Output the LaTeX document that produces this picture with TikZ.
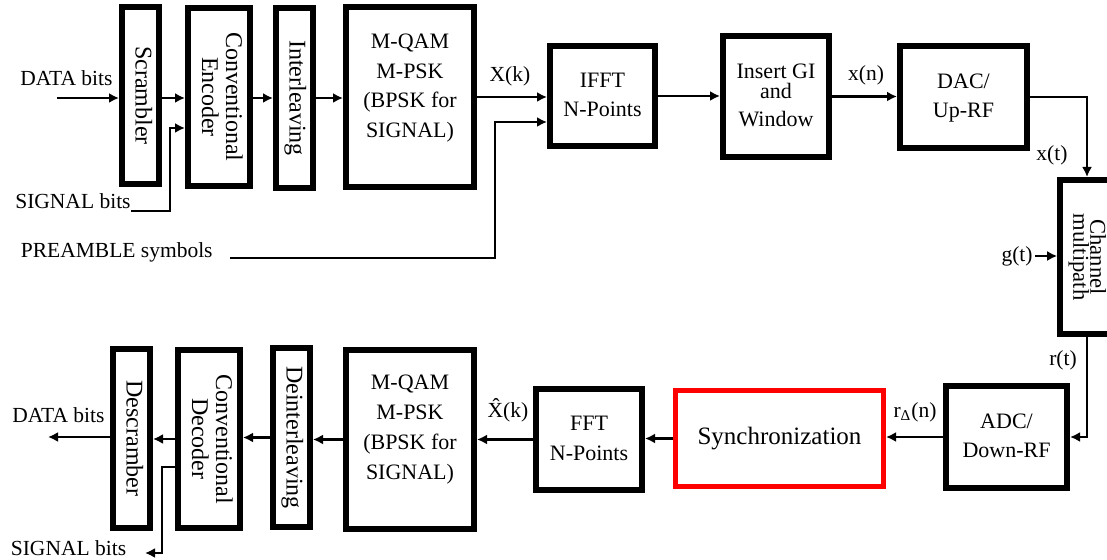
\documentclass[tikz,border=0pt]{standalone}
\usepackage{fontspec}
\setmainfont{Liberation Serif}
\usepackage{graphicx}
\usetikzlibrary{arrows.meta}

\tikzset{
  blk/.style={draw, line width=2.8pt, inner sep=0pt,
    font=\fontsize{11}{13}\selectfont},
  vblk/.style={blk, font=\fontsize{12}{12}\selectfont},
  lbl/.style={inner sep=0pt, font=\fontsize{10.75}{13}\selectfont},
  arr/.style={line width=1.2pt, -{Latex[length=5pt,width=5pt]}},
}
\newcommand{\htxt}[1]{{\renewcommand{\arraystretch}{1.15}\begin{tabular}{@{}c@{}}#1\end{tabular}}}
\newcommand{\vtxt}[1]{\rotatebox{-90}{\begin{tabular}{@{}c@{}}#1\end{tabular}}}

\begin{document}
\begin{tikzpicture}[x=0.5pt, y=-0.5pt]
  \useasboundingbox (0,0) rectangle (1107,560);

  % transmitter
  \node[vblk, minimum width=18.7pt, minimum height=88.7pt] (scr) at (140.5,95.5) {\vtxt{Scrambler}};
  \node[vblk, minimum width=31.2pt, minimum height=89.2pt] (enc) at (219,97) {\vtxt{Conventional\\Encoder}};
  \node[vblk, minimum width=18.7pt, minimum height=90.2pt] (intl) at (294.5,98) {\vtxt{Interleaving}};
  \node[blk, minimum width=64.2pt, minimum height=90.2pt] (qam) at (410,97) {};
  \node[lbl, font=\fontsize{11}{13}\selectfont] (qamtxt) at ([yshift=5pt]qam.center)
    {\htxt{M-QAM\\M-PSK\\(BPSK for\\SIGNAL)}};
  \node[blk, minimum width=52.7pt, minimum height=50.2pt] (ifft) at (602.5,96) {\htxt{IFFT\\N-Points}};
  \node[blk, minimum width=53.2pt, minimum height=60.7pt] (gi) at (776,96.5) {\htxt{Insert GI\\[-5pt]and\\[-1pt]Window}};
  \node[blk, minimum width=63.7pt, minimum height=51.2pt] (dac) at (963.5,97) {\htxt{DAC/\\Up-RF}};
  \node[blk, minimum width=27pt, minimum height=77.2pt, font=\fontsize{11.3}{9}\selectfont] (chan) at (1087,257)
    {\vtxt{Channel\\[-2pt]multipath}};

  % receiver
  \node[blk, minimum width=60.7pt, minimum height=51.2pt] (adc) at (1006.5,437) {\htxt{ADC/\\Down-RF}};
  \node[blk, draw=red, line width=2.5pt, minimum width=104pt, minimum height=48pt,
    font=\fontsize{12.5}{15}\selectfont] (sync) at (779.5,438.5) {Synchronization};
  \node[blk, minimum width=53.2pt, minimum height=50.7pt] (fft) at (589,439.5) {\htxt{FFT\\N-Points}};
  \node[blk, minimum width=64.2pt, minimum height=89.7pt] (qamr) at (410,439.5) {};
  \node[lbl, font=\fontsize{11}{13}\selectfont] (qamrtxt) at ([yshift=5.5pt]qamr.center)
    {\htxt{M-QAM\\M-PSK\\(BPSK for\\SIGNAL)}};
  \node[vblk, minimum width=18.7pt, minimum height=89.7pt] (dintl) at (291.5,437.5) {\vtxt{Deinterleaving}};
  \node[vblk, minimum width=31.2pt, minimum height=89.2pt] (dec) at (209,439) {\vtxt{Conventional\\Decoder}};
  \node[vblk, minimum width=18.7pt, minimum height=89.7pt] (dscr) at (131.5,438.5) {\vtxt{Descramber}};

  % labels
  \node[lbl] (datain) at (66.5,78) {DATA bits};
  \node[lbl, anchor=base east] (sigin) at (131,209) {SIGNAL bits};
  \node[lbl, anchor=base east] (pre) at (213,258) {PREAMBLE symbols};
  \node[lbl] (xk) at (510,76) {X(k)};
  \node[lbl] (xn) at (866,75) {x(n)};
  \node[lbl] (xt) at (1052,155) {x(t)};
  \node[lbl, anchor=east] (gt) at (1033,256) {g(t)};
  \node[lbl] (rt) at (1063,360) {r(t)};
  \node[lbl] (rn) at (915,412) {r\textsubscript{Δ}(n)};
  \node[lbl] (xhat) at (508,410) {\^{X}(k)};
  \node[lbl] (dataout) at (58.5,415) {DATA bits};
  \node[lbl] (sigout) at (68.5,548) {SIGNAL bits};

  \coordinate (din) at (57,98);
  \coordinate (sigturn) at (170,128);
  \coordinate (preturn) at (495,122);
  \coordinate (dout) at (48,437);
  \coordinate (sigdown) at (162,553);
  \coordinate (sigtip) at (145,553);

  % top path
  \draw[arr] (din) -- (din -| scr.west);
  \draw[arr] (din -| scr.east) -- (din -| enc.west);
  \draw[arr] ([yshift=-1pt]sigin.base east) -| (sigturn) -- (sigturn -| enc.west);
  \draw[arr] (din -| enc.east) -- (din -| intl.west);
  \draw[arr] (din -| intl.east) -- (din -| qam.west);
  \draw[arr] (qam.east) -- (qam.east -| ifft.west);
  \draw[arr] ([xshift=8.5pt]pre.base east) -| (preturn) -- (preturn -| ifft.west);
  \draw[arr] (ifft.east) -- (ifft.east -| gi.west);
  \draw[arr] (gi.east) -- (gi.east -| dac.west);
  \draw[arr] (dac.east) -| (chan.north);
  \draw[arr] ([xshift=1pt]gt.east) -- (gt.east -| chan.west);

  % bottom path
  \draw[arr] (chan.south) |- (adc.east);
  \draw[arr] (adc.west) -- (adc.west -| sync.east);
  \draw[arr] (sync.west) -- (sync.west -| fft.east);
  \draw[arr] (fft.west) -- (fft.west -| qamr.east);
  \draw[arr] (qamr.west) -- (qamr.west -| dintl.east);
  \draw[arr] (dintl.west) -- (dintl.west -| dec.east);
  \draw[arr] (dec.west) -- (dec.west -| dscr.east);
  \draw[arr] (dout -| dscr.west) -- (dout);
  \draw[arr] (dec.west |- 0,467) -| (sigdown) -- (sigtip);
\end{tikzpicture}
\end{document}
